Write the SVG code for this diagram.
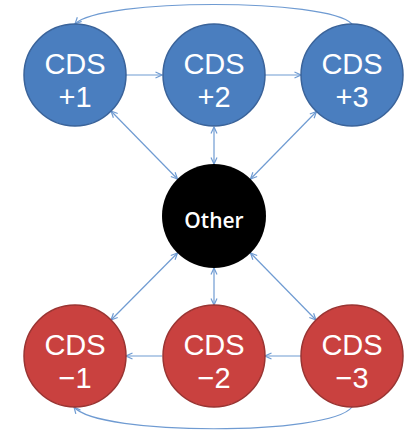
<svg xmlns="http://www.w3.org/2000/svg" width="409" height="432" viewBox="0 0 409 432">
  <style>
    .blue { fill: #4a7ebf; stroke: #3a639a; stroke-width: 1.5; }
    .red { fill: #c9413f; stroke: #9a3432; stroke-width: 1.5; }
    .black { fill: #000; }
    .lbl { font-family: "Liberation Sans", Arial, sans-serif; font-size: 29px; fill: #fff; text-anchor: middle; }
    .oth { font-family: "Open Sans", "Liberation Sans", sans-serif; font-size: 21px; font-weight: 600; fill: #fff; text-anchor: middle; }
    .edge { fill: none; stroke: #6f9bd2; stroke-width: 1.2; }
  </style>
  <defs>
    <marker id="arr" viewBox="0 0 8 8" refX="7.5" refY="4" markerWidth="8" markerHeight="8" markerUnits="userSpaceOnUse" orient="auto-start-reverse">
      <path d="M1,1 L7.5,4 L1,7" fill="none" stroke="#6f9bd2" stroke-width="1.2"/>
    </marker>
  </defs>

  <g id="connectors" class="edge">
    <!-- long arcs -->
    <path d="M352,24 C328,-2 100,-2 75,24" marker-end="url(#arr)"/>
    <path d="M352,407 C330,436 98,436 74,407" marker-end="url(#arr)"/>
    <!-- horizontal chains -->
    <line x1="126" y1="75" x2="162" y2="75" marker-end="url(#arr)"/>
    <line x1="265" y1="75" x2="301" y2="75" marker-end="url(#arr)"/>
    <line x1="162" y1="356" x2="126" y2="356" marker-end="url(#arr)"/>
    <line x1="301" y1="356" x2="265" y2="356" marker-end="url(#arr)"/>
    <!-- links to Other -->
    <line x1="111" y1="111" x2="177.5" y2="179" marker-start="url(#arr)" marker-end="url(#arr)"/>
    <line x1="214" y1="127" x2="214" y2="164" marker-start="url(#arr)" marker-end="url(#arr)"/>
    <line x1="316.5" y1="111.5" x2="250.5" y2="179" marker-start="url(#arr)" marker-end="url(#arr)"/>
    <line x1="111" y1="320" x2="177.5" y2="253" marker-start="url(#arr)" marker-end="url(#arr)"/>
    <line x1="214" y1="305" x2="214" y2="268" marker-start="url(#arr)" marker-end="url(#arr)"/>
    <line x1="316" y1="320" x2="250.5" y2="253" marker-start="url(#arr)" marker-end="url(#arr)"/>
  </g>

  <g id="cds-p1">
    <circle class="blue" cx="75" cy="75" r="51"/>
    <text class="lbl" x="75" y="73.5">CDS</text>
    <text class="lbl" x="75" y="107">+1</text>
  </g>
  <g id="cds-p2">
    <circle class="blue" cx="214" cy="75" r="51"/>
    <text class="lbl" x="214" y="73.5">CDS</text>
    <text class="lbl" x="214" y="107">+2</text>
  </g>
  <g id="cds-p3">
    <circle class="blue" cx="352" cy="75" r="51"/>
    <text class="lbl" x="352" y="73.5">CDS</text>
    <text class="lbl" x="352" y="107">+3</text>
  </g>
  <g id="other">
    <circle class="black" cx="214" cy="216" r="52"/>
    <text class="oth" x="214" y="227.5">Other</text>
  </g>
  <g id="cds-m1">
    <circle class="red" cx="75" cy="356" r="51"/>
    <text class="lbl" x="75" y="354.5">CDS</text>
    <text class="lbl" x="75" y="388">−1</text>
  </g>
  <g id="cds-m2">
    <circle class="red" cx="214" cy="356" r="51"/>
    <text class="lbl" x="214" y="354.5">CDS</text>
    <text class="lbl" x="214" y="388">−2</text>
  </g>
  <g id="cds-m3">
    <circle class="red" cx="352" cy="356" r="51"/>
    <text class="lbl" x="352" y="354.5">CDS</text>
    <text class="lbl" x="352" y="388">−3</text>
  </g>
</svg>
